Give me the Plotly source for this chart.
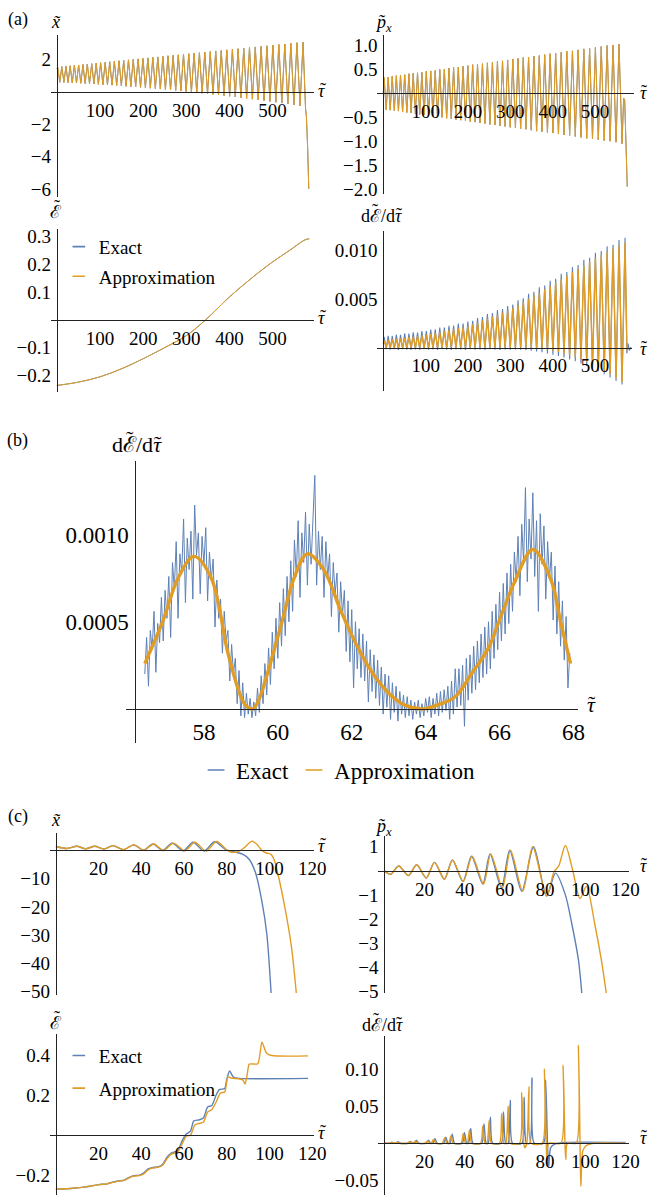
import plotly.graph_objects as go

W, H = 661, 1204
BLUE = '#5E81B5'
ORANGE = '#E19C24'
SERIF = 'Liberation Serif, Times New Roman, serif'
AXC = '#222222'

# ======================= (a) long run, tau 0..585 =======================
a_tau_peak = [2.0, 11.5, 21.1, 30.8, 40.6, 50.5, 60.5, 70.6, 80.8, 91.1, 101.5, 112.0, 122.6,
              133.3, 144.1, 155.0, 166.0, 177.1, 188.3, 199.6, 211.0, 222.5, 234.1, 245.8,
              257.6, 269.5, 281.5, 293.6, 305.8, 318.1, 330.5, 343.0, 355.6, 368.3, 381.1,
              394.0, 407.0, 420.1, 433.3, 446.6, 460.0, 473.5, 487.1, 500.8, 514.6, 528.5,
              542.5, 556.6, 570.8]
a_tau_trough = [6.75, 16.3, 25.95, 35.7, 45.55, 55.5, 65.55, 75.7, 85.95, 96.3, 106.75, 117.3,
                127.95, 138.7, 149.55, 160.5, 171.55, 182.7, 193.95, 205.3, 216.75, 228.3,
                239.95, 251.7, 263.55, 275.5, 287.55, 299.7, 311.95, 324.3, 336.75, 349.3,
                361.95, 374.7, 387.55, 400.5, 413.55, 426.7, 439.95, 453.3, 466.75, 480.3,
                493.95, 507.7, 521.55, 535.5, 549.55, 563.7]

# x~ : maxima and minima of each oscillation
a_x_peak = [1.55, 1.58, 1.60, 1.63, 1.66, 1.68, 1.71, 1.74, 1.76, 1.79, 1.82, 1.85, 1.88, 1.91,
            1.94, 1.97, 2.00, 2.03, 2.06, 2.09, 2.12, 2.15, 2.18, 2.21, 2.25, 2.28, 2.31, 2.34,
            2.38, 2.41, 2.44, 2.48, 2.51, 2.55, 2.58, 2.62, 2.65, 2.69, 2.72, 2.76, 2.80, 2.83,
            2.87, 2.91, 2.95, 2.98, 3.02, 3.06, 3.10]
a_x_trough = [0.61, 0.60, 0.59, 0.57, 0.56, 0.55, 0.53, 0.52, 0.50, 0.48, 0.46, 0.45, 0.43, 0.41,
              0.38, 0.36, 0.34, 0.32, 0.29, 0.27, 0.24, 0.22, 0.19, 0.16, 0.13, 0.10, 0.07, 0.04,
              0.00, -0.03, -0.07, -0.10, -0.14, -0.18, -0.22, -0.26, -0.30, -0.35, -0.39, -0.44,
              -0.48, -0.53, -0.58, -0.63, -0.68, -0.74, -0.79, -0.85]
a_x_start = [0.0, 1.45]
a_x_tail_tau = [576.5, 578.5, 581.5, 584.0]
a_x_tail = [-1.0, -1.5, -3.5, -6.0]

# p~_x
a_px_peak = [0.33, 0.34, 0.36, 0.37, 0.38, 0.39, 0.41, 0.42, 0.43, 0.44, 0.46, 0.47, 0.48, 0.50,
             0.51, 0.53, 0.54, 0.55, 0.57, 0.58, 0.60, 0.61, 0.62, 0.64, 0.65, 0.67, 0.68, 0.70,
             0.72, 0.73, 0.75, 0.76, 0.78, 0.79, 0.81, 0.83, 0.84, 0.86, 0.88, 0.89, 0.91, 0.93,
             0.94, 0.96, 0.98, 1.00, 1.01, 1.03]
a_px_trough = [-0.34, -0.35, -0.36, -0.37, -0.39, -0.40, -0.41, -0.43, -0.44, -0.45, -0.46, -0.48,
               -0.49, -0.50, -0.52, -0.53, -0.55, -0.56, -0.57, -0.59, -0.60, -0.62, -0.63, -0.65,
               -0.66, -0.68, -0.69, -0.71, -0.72, -0.74, -0.75, -0.77, -0.79, -0.80, -0.82, -0.83,
               -0.85, -0.87, -0.88, -0.90, -0.92, -0.94, -0.95, -0.97, -0.99, -1.00, -1.02, -1.05]
a_px_start = [0.0, 0.0]
a_px_tail_tau = [567.5, 570.0, 576.0]
a_px_tail = [-0.10, -0.15, -1.95]

# E~
a_E_tau = [0, 50, 100, 150, 200, 250, 300, 345, 400, 450, 500, 540, 570, 575, 580, 585]
a_E = [-0.236, -0.224, -0.205, -0.176, -0.140, -0.100, -0.057, 0.000, 0.082, 0.148, 0.208,
       0.250, 0.283, 0.287, 0.290, 0.291]

# dE~/dtau (units of 1e-4)
a_dE_peak_approx = [7.1, 7.7, 8.3, 8.8, 9.4, 10.0, 10.6, 11.2, 11.8, 12.4, 13.1, 14.1, 15.0, 16.0,
                    17.0, 17.9, 18.9, 19.9, 20.9, 22.0, 23.9, 25.8, 27.8, 29.8, 31.8, 33.8, 35.9,
                    37.9, 40.5, 43.7, 46.9, 50.2, 53.5, 56.8, 60.1, 63.4, 66.9, 70.4, 74.0, 77.6,
                    81.2, 84.8, 88.5, 92.2, 95.4, 98.6, 101.8, 105.1, 108.3]
a_dE_peak_exact = [11.1, 12.0, 12.1, 13.3, 13.1, 14.6, 14.3, 15.6, 15.5, 17.0, 16.9, 18.6, 18.7,
                   20.5, 20.6, 22.4, 22.7, 24.6, 24.6, 26.7, 27.6, 30.5, 31.5, 34.6, 35.5, 38.7,
                   39.6, 42.9, 44.3, 48.8, 50.8, 55.4, 57.4, 62.1, 64.0, 68.9, 70.8, 75.9, 77.8,
                   83.1, 85.1, 90.4, 92.4, 97.8, 99.4, 104.3, 105.9, 110.9, 113.2]
a_dE_trough_approx = [0.0] * 30 + [0.0, -0.2, -0.7, -1.3, -2.2, -3.2, -4.5, -6.1, -7.9, -9.9,
                                   -12.2, -14.7, -17.5, -20.5, -23.8, -27.4, -31.3, -35.5]
a_dE_trough_exact = [-1.6, -2.2, -1.8, -2.4, -1.7, -2.1, -2.5, -1.9, -2.2, -1.6, -2.3, -2.0, -2.6,
                     -1.8, -2.2, -2.4, -1.9, -2.1, -2.5, -1.7, -2.3, -2.0, -2.4, -1.8, -2.2, -2.6,
                     -1.9, -2.3, -2.1, -2.3, -2.7, -3.3, -4.0, -4.9, -6.0, -7.3, -8.7, -10.3,
                     -12.2, -14.2, -16.5, -18.9, -21.6, -24.4, -27.5, -30.8, -34.4, -38.2]
a_dE_start = [0.0, 4.0]
a_dE_tail_tau_approx = [575.5, 578.0]
a_dE_tail_approx = [-3.0, 0.0]
a_dE_tail_tau_exact = [575.0, 578.0, 581.0, 585.0]
a_dE_tail_exact = [-6.0, 4.0, -3.0, 0.5]

# ======================= (b) zoom 56.4..67.9 (units of 1e-4) =======================
b_tau_start, b_tau_step = 56.40, 0.05
b_exact = [2.0, 4.1, 1.3, 4.5, 3.4, 5.6, 2.1, 4.9, 3.8, 6.4,
           3.9, 6.8, 5.2, 7.6, 4.1, 8.4, 6.9, 9.6, 5.2, 8.9,
           7.8, 10.9, 6.1, 9.8, 8.0, 10.2, 6.3, 11.7, 8.8, 10.1,
           6.6, 9.9, 8.3, 10.4, 6.2, 9.0, 7.4, 8.6, 4.7, 7.4,
           5.2, 6.3, 3.2, 5.6, 3.9, 4.5, 1.6, 3.7, 2.0, 2.9,
           0.3, 2.2, -0.4, 1.5, -0.5, 0.9, -0.3, 0.6, -0.5, 0.4,
           -0.4, 1.2, -0.2, 1.9, 0.3, 2.6, 0.8, 3.5, 1.4, 4.4,
           2.3, 5.2, 2.9, 6.1, 3.6, 6.9, 4.2, 7.6, 5.0, 8.5,
           5.6, 9.7, 7.6, 10.8, 6.4, 10.1, 8.4, 11.3, 7.1, 10.6,
           8.3, 11.0, 13.4, 7.1, 10.2, 8.0, 9.9, 6.4, 9.6, 7.5,
           8.9, 5.3, 8.4, 6.6, 7.8, 4.4, 7.3, 5.4, 6.8, 3.3,
           6.2, 2.7, 5.7, 1.2, 5.0, 2.3, 4.6, 1.8, 4.3, 1.6,
           3.9, 0.4, 3.4, 1.0, 3.1, 0.6, 2.8, 0.2, 2.4, -0.3,
           2.0, 0.1, 1.9, -0.6, 1.5, -0.2, 1.3, -0.7, 1.0, -0.3,
           0.8, -0.5, 0.7, -0.4, 0.5, -0.6, 0.4, -0.3, 0.5, -0.5,
           0.3, -0.4, 0.6, -0.2, 0.7, -0.5, 0.6, -0.3, 0.9, -0.4,
           1.0, -0.2, 1.1, -0.1, 1.3, -0.6, 1.6, -0.3, 2.3, 0.1,
           2.3, 0.2, 2.5, -1.0, 2.9, 0.5, 3.1, 0.9, 3.6, 1.1,
           3.9, 1.5, 4.3, 1.8, 4.7, 2.0, 5.0, 2.3, 5.6, 2.9,
           6.0, 3.4, 6.7, 3.9, 7.2, 4.3, 7.8, 4.9, 8.3, 5.6,
           9.0, 7.3, 9.9, 6.5, 10.6, 8.4, 12.7, 7.3, 10.9, 8.6,
           12.4, 7.6, 10.8, 5.6, 11.2, 8.3, 10.5, 6.3, 9.6, 7.4,
           9.0, 5.1, 8.2, 4.3, 7.3, 3.6, 6.2, 2.8, 5.3, 1.2,
           3.2]
b_approx_tau = [56.40, 56.90, 57.30, 57.73, 58.20, 58.65, 59.00, 59.15, 59.33, 59.50, 59.70,
                60.10, 60.44, 60.80, 61.24, 61.70, 62.10, 62.55, 63.00, 63.45, 63.90, 64.35,
                64.80, 65.25, 65.70, 66.05, 66.40, 66.90, 67.40, 67.65, 67.92]
b_approx = [2.6, 5.1, 7.5, 8.75, 7.5, 3.2, 0.7, 0.15, 0.0, 0.6, 1.9, 4.9, 7.5, 8.9, 8.0, 5.65,
            3.8, 2.1, 0.9, 0.2, 0.0, 0.25, 0.7, 2.05, 3.5, 5.4, 7.25, 9.15, 7.35, 5.0, 2.6]

# ======================= (c) short run, tau 0..120 =======================
c_x_tau_exact = [0, 5.2, 9.8, 13.9, 18.2, 22.5, 26.7, 31.7, 36.4, 41.0, 45.5, 50.0, 54.4, 59.6,
                 64.2, 69.3, 74.3, 79.5, 83.0, 87.3, 90.3, 93.3, 96.4, 98.7, 100.7]
c_x_exact = [1.4, 0.7, 1.5, 0.6, 1.5, 0.5, 1.7, 0.3, 2.0, 0.1, 2.3, 0.0, 2.6, -0.1, 2.9, -0.2,
             3.1, 0.3, -0.4, -1.3, -3.0, -7.6, -18.0, -29.6, -50.5]
c_x_tau_approx = [0, 5.2, 9.8, 13.9, 18.2, 22.5, 26.7, 31.7, 36.6, 41.2, 45.8, 50.4, 55.0, 60.4,
                  65.0, 70.3, 75.2, 81.1, 85.0, 88.2, 91.8, 94.5, 96.4, 98.5, 100.5, 102.0,
                  104.0, 107.1, 110.2, 112.5]
c_x_approx = [1.4, 0.7, 1.5, 0.6, 1.5, 0.5, 1.7, 0.3, 2.0, 0.1, 2.3, 0.0, 2.6, -0.1, 2.9, -0.2,
              3.2, -0.4, -0.5, 1.0, 3.3, 1.8, 0.0, -0.9, -1.3, -3.0, -8.7, -20.0, -34.0, -50.5]

c_px_tau_exact = [0, 3.1, 7.2, 12.0, 16.1, 20.9, 25.0, 29.9, 33.9, 39.1, 43.4, 49.0, 52.6, 58.3,
                  62.4, 68.4, 74.3, 80.8, 85.2, 90.1, 93.3, 96.6, 98.3]
c_px_exact = [0.0, -0.15, 0.2, -0.2, 0.25, -0.3, 0.35, -0.35, 0.45, -0.45, 0.6, -0.55, 0.7,
              -0.7, 0.85, -0.85, 1.0, -1.05, -0.1, -1.0, -2.2, -3.7, -5.1]
c_px_tau_approx = [0, 3.1, 7.2, 12.0, 16.1, 20.9, 25.0, 29.9, 34.0, 39.3, 43.7, 49.4, 53.0, 58.8,
                   62.8, 68.9, 73.8, 80.8, 84.4, 86.8, 90.1, 93.8, 97.4, 100.6, 104.7, 108.0,
                   110.5]
c_px_approx = [0.0, -0.15, 0.2, -0.2, 0.25, -0.3, 0.35, -0.35, 0.45, -0.45, 0.6, -0.55, 0.7,
               -0.7, 0.85, -0.85, 1.0, -1.05, -0.05, 0.2, 1.05, 0.0, -1.15, -0.65, -2.2, -3.7,
               -5.1]

c_E_tau_exact = [0, 8, 14, 20, 24, 26, 29, 32, 34, 36, 39, 41, 43, 45, 48, 50, 52, 54, 57, 59, 61,
                 63, 64.5, 67, 69, 71, 73, 75, 76.5, 79, 80, 81.3, 83, 86, 118]
c_E_exact = [-0.270, -0.265, -0.258, -0.247, -0.243, -0.236, -0.229, -0.225, -0.212, -0.203,
             -0.200, -0.190, -0.170, -0.162, -0.158, -0.145, -0.110, -0.090, -0.078, -0.030,
             0.005, 0.020, 0.070, 0.076, 0.085, 0.140, 0.148, 0.200, 0.227, 0.232, 0.280, 0.320,
             0.290, 0.283, 0.283]
c_E_tau_approx = [0, 8, 14, 20, 24, 26, 29, 32, 34, 36, 39, 41, 43, 45, 48, 50, 52, 54, 57, 59, 61,
                  63, 65, 67, 69, 71, 73, 75, 77, 79, 80.5, 82, 86, 87.5, 88.5, 89.5, 90.5, 94.5,
                  96.4, 98.5, 101, 118]
c_E_approx = [-0.270, -0.265, -0.258, -0.247, -0.243, -0.238, -0.230, -0.226, -0.215, -0.205,
              -0.202, -0.195, -0.175, -0.165, -0.160, -0.150, -0.118, -0.095, -0.085, -0.045,
              -0.005, 0.000, 0.050, 0.058, 0.064, 0.115, 0.128, 0.165, 0.210, 0.215, 0.290,
              0.285, 0.280, 0.275, 0.255, 0.300, 0.354, 0.356, 0.464, 0.410, 0.397, 0.395]

c_dE_tau_exact = [0, 2.7, 3.8, 4.9, 5.8, 6.9, 8.0, 11.8, 12.9, 14.0, 14.9, 16.0, 17.1, 20.9, 22.0,
                  23.1, 24.1, 25.2, 26.3, 29.5, 30.6, 31.7, 32.7, 33.8, 34.9, 38.8, 39.9, 41.0,
                  41.9, 43.0, 44.1, 48.5, 49.6, 50.7, 51.7, 52.8, 53.9, 58.2, 59.3, 60.4, 61.6,
                  62.7, 63.8, 68.5, 69.6, 70.7, 72.4, 73.5, 74.6, 79.2, 80.3, 81.2, 81.8, 82.8,
                  85.0, 90.0, 120.0]
c_dE_exact = [0, 0, 0.0015, 0, 0, 0.002, 0, 0, 0.0025, 0, 0, 0.004, 0, 0, 0.004, 0, 0, 0.006, 0,
              0, 0.008, 0, 0, 0.012, 0, 0, 0.014, 0, 0, 0.020, 0, 0, 0.026, 0, 0, 0.035, 0, 0,
              0.042, 0, 0, 0.058, 0, 0, 0.062, 0, 0, 0.088, 0, 0, 0.085, 0, -0.032, -0.006,
              -0.001, 0.001, 0.001]
c_dE_tau_approx = [0, 2.4, 3.5, 4.6, 5.4, 6.5, 7.6, 11.4, 12.5, 13.6, 14.4, 15.5, 16.6, 20.4, 21.5,
                   22.6, 23.4, 24.5, 25.6, 28.9, 30.0, 31.1, 32.1, 33.2, 34.3, 38.2, 39.3, 40.4,
                   41.3, 42.4, 43.5, 47.9, 49.0, 50.1, 51.1, 52.2, 53.3, 57.3, 58.4, 59.5, 60.5,
                   61.6, 62.7, 67.3, 68.4, 69.4, 69.9, 70.9, 72.0, 73.1, 78.6, 79.7, 80.6, 81.0,
                   81.8, 87.9, 89.0, 89.9, 90.3, 91.1, 95.5, 96.6, 97.4, 97.8, 98.8, 100.5, 104.0,
                   120.0]
c_dE_approx = [0, 0, 0.001, 0, 0, 0.0015, 0, 0, 0.002, 0, 0, 0.003, 0, 0, 0.003, 0, 0, 0.005, 0,
               0, 0.007, 0, 0, 0.010, 0, 0, 0.013, 0, 0, 0.018, 0, 0, 0.023, 0, 0, 0.031, 0, 0,
               0.040, 0, 0, 0.050, 0, 0, 0.068, 0, -0.006, 0, 0.076, 0, 0, 0.100, 0, -0.030, 0,
               0, 0.105, 0, -0.022, 0, 0, 0.132, 0, -0.058, -0.010, -0.003, 0, 0]


def zigzag(start, tp, vp, tt, vt, tail_t, tail_v):
    ts, vs = [start[0]], [start[1]]
    for i in range(len(tp)):
        ts.append(tp[i]); vs.append(vp[i])
        if i < len(tt):
            ts.append(tt[i]); vs.append(vt[i])
    return ts + list(tail_t), vs + list(tail_v)


def e4(lst):
    return [v * 1e-4 for v in lst]


fig = go.Figure()

# panel geometry (pixels) and axis scaling
panels = {
    1: dict(xdom=(52, 320), xref=(58, 0), xs=0.44, ydom=(32, 196), y0=90, ys=16.3, yax=58),
    2: dict(xdom=(385, 647), xref=(391, 0), xs=0.432, ydom=(32, 193), y0=91.3, ys=48.3, yax=391),
    3: dict(xdom=(52, 320), xref=(58, 0), xs=0.44, ydom=(228, 393), y0=320, ys=281, yax=58),
    4: dict(xdom=(385, 645), xref=(391, 0), xs=0.432, ydom=(230, 392), y0=348, ys=9800, yax=391),
    5: dict(xdom=(129, 590), xref=(208, 58), xs=37.7, ydom=(463, 747), y0=713, ys=176000, yax=138),
    6: dict(xdom=(51, 320), xref=(57, 0), xs=2.18, ydom=(838, 1002), y0=856, ys=2.85, yax=57),
    7: dict(xdom=(386, 642), xref=(392, 0), xs=2.05, ydom=(841, 1000), y0=876.5, ys=24.33, yax=392),
    8: dict(xdom=(51, 320), xref=(57, 0), xs=2.18, ydom=(1041, 1204), y0=1143.5, ys=202.5, yax=57),
    9: dict(xdom=(386, 642), xref=(392, 0), xs=2.05, ydom=(1043, 1204), y0=1151.7, ys=750, yax=392),
}

ticks = {
    1: ([100, 200, 300, 400, 500], ['100', '200', '300', '400', '500'],
        [2, -2, -4, -6], ['2', '−2', '−4', '−6'], 19, 1),
    2: ([100, 200, 300, 400, 500], ['100', '200', '300', '400', '500'],
        [1.0, 0.5, -0.5, -1.0, -1.5, -2.0], ['1.0', '0.5', '−0.5', '−1.0', '−1.5', '−2.0'], 19, 1),
    3: ([100, 200, 300, 400, 500], ['100', '200', '300', '400', '500'],
        [0.3, 0.2, 0.1, -0.1, -0.2], ['0.3', '0.2', '0.1', '−0.1', '−0.2'], 19, 1),
    4: ([100, 200, 300, 400, 500], ['100', '200', '300', '400', '500'],
        [0.005, 0.010], ['0.005', '0.010'], 19, 1),
    5: ([58, 60, 62, 64, 66, 68], ['58', '60', '62', '64', '66', '68'],
        [0.0005, 0.0010], ['0.0005', '0.0010'], 23, 3),
    6: ([20, 40, 60, 80, 100, 120], ['20', '40', '60', '80', '100', '120'],
        [-10, -20, -30, -40, -50], ['−10', '−20', '−30', '−40', '−50'], 19, 1),
    7: ([20, 40, 60, 80, 100, 120], ['20', '40', '60', '80', '100', '120'],
        [1, -1, -2, -3, -4, -5], ['1', '−1', '−2', '−3', '−4', '−5'], 19, 1),
    8: ([20, 40, 60, 80, 100, 120], ['20', '40', '60', '80', '100', '120'],
        [0.4, 0.2, -0.2], ['0.4', '0.2', '−0.2'], 19, 1),
    9: ([20, 40, 60, 80, 100, 120], ['20', '40', '60', '80', '100', '120'],
        [0.10, 0.05, -0.05], ['0.10', '0.05', '−0.05'], 19, 1),
}

layout_axes = {}
for k, p in panels.items():
    xr = [p['xref'][1] + (p['xdom'][0] - p['xref'][0]) / p['xs'],
          p['xref'][1] + (p['xdom'][1] - p['xref'][0]) / p['xs']]
    yr = [(p['y0'] - p['ydom'][1]) / p['ys'], (p['y0'] - p['ydom'][0]) / p['ys']]
    xv, xt, yv, yt, fs, so = ticks[k]
    sfx = '' if k == 1 else str(k)
    layout_axes['xaxis' + sfx] = dict(
        domain=[p['xdom'][0] / W, p['xdom'][1] / W], range=xr, anchor='free',
        position=1 - p['y0'] / H, showline=True, linecolor=AXC, linewidth=1,
        showgrid=False, zeroline=False, ticks='', tickvals=xv, ticktext=xt,
        tickfont=dict(family=SERIF, size=fs, color='black'), ticklabelstandoff=so,
        fixedrange=True)
    layout_axes['yaxis' + sfx] = dict(
        domain=[1 - p['ydom'][1] / H, 1 - p['ydom'][0] / H], range=yr, anchor='free',
        position=p['yax'] / W, showline=True, linecolor=AXC, linewidth=1,
        showgrid=False, zeroline=False, ticks='', tickvals=yv, ticktext=yt,
        tickfont=dict(family=SERIF, size=fs, color='black'), ticklabelstandoff=2,
        fixedrange=True)


def line(k, x, y, color, width, shape='linear', smoothing=1.0):
    sfx = '' if k == 1 else str(k)
    fig.add_trace(go.Scatter(x=x, y=y, mode='lines', xaxis='x' + sfx, yaxis='y' + sfx,
                             line=dict(color=color, width=width, shape=shape,
                                       smoothing=smoothing),
                             showlegend=False, hoverinfo='skip'))


# ---- (a) ----
tx, vx = zigzag(a_x_start, a_tau_peak, a_x_peak, a_tau_trough, a_x_trough, a_x_tail_tau, a_x_tail)
line(1, tx, vx, BLUE, 1.0)
line(1, tx, vx, ORANGE, 1.0)

tp, vp = zigzag(a_px_start, a_tau_peak[:48], a_px_peak, a_tau_trough, a_px_trough,
                a_px_tail_tau, a_px_tail)
line(2, tp, vp, BLUE, 1.0)
line(2, tp, vp, ORANGE, 1.0)

line(3, a_E_tau, a_E, BLUE, 1.0, 'spline')
line(3, a_E_tau, a_E, ORANGE, 1.0, 'spline')

te, ve = zigzag(a_dE_start, a_tau_peak, a_dE_peak_exact, a_tau_trough, a_dE_trough_exact,
                a_dE_tail_tau_exact, a_dE_tail_exact)
line(4, te, e4(ve), BLUE, 1.1)
ta, va = zigzag(a_dE_start, a_tau_peak, a_dE_peak_approx, a_tau_trough, a_dE_trough_approx,
                a_dE_tail_tau_approx, a_dE_tail_approx)
line(4, ta, e4(va), ORANGE, 1.4)

# ---- (b) ----
b_tau = [round(b_tau_start + b_tau_step * i, 2) for i in range(len(b_exact))]
line(5, b_tau, e4(b_exact), BLUE, 1.0)
line(5, b_approx_tau, e4(b_approx), ORANGE, 3.4, 'spline', 1.0)

# ---- (c) ----
line(6, c_x_tau_exact, c_x_exact, BLUE, 1.4, 'spline', 0.8)
line(6, c_x_tau_approx, c_x_approx, ORANGE, 1.4, 'spline', 0.8)
line(7, c_px_tau_exact, c_px_exact, BLUE, 1.4, 'spline', 0.8)
line(7, c_px_tau_approx, c_px_approx, ORANGE, 1.4, 'spline', 0.8)
line(8, c_E_tau_exact, c_E_exact, BLUE, 1.4, 'spline', 0.6)
line(8, c_E_tau_approx, c_E_approx, ORANGE, 1.4, 'spline', 0.6)
line(9, c_dE_tau_exact, c_dE_exact, BLUE, 1.4, 'spline', 0.7)
line(9, c_dE_tau_approx, c_dE_approx, ORANGE, 1.4, 'spline', 0.7)

# ---- legends ----
for lg, size in (('legend', 9), ('legend2', 12), ('legend3', 9)):
    for name, col in (('Exact', BLUE), ('Approximation', ORANGE)):
        fig.add_trace(go.Scatter(x=[None], y=[None], mode='markers', name=name,
                                 legend=lg, legendgroup=lg + name,
                                 marker=dict(symbol='line-ew', size=size,
                                             line=dict(color=col, width=1.6)),
                                 hoverinfo='skip'))

annotations = []


def ann(px, py, text, size=18):
    annotations.append(dict(x=px / W, y=1 - py / H, xref='paper', yref='paper', text=text,
                            showarrow=False, xanchor='center', yanchor='middle',
                            font=dict(family=SERIF, size=size, color='black')))


def tilde(px, py, size=18):
    # small tilde accent drawn above the preceding glyph
    ann(px, py, '˜', size)


def tau_label(px, py, size=18):
    ann(px, py, '<i>τ</i>', size)
    tilde(px + 1, py - 1, size)


def dE_label(px, py, size=18):
    s = size / 18.0
    ann(px, py, 'dℰ/d<i>τ</i>', size)
    tilde(px - 6 * s, py - 5 * s, size)
    tilde(px + 17.5 * s, py - 1 * s, size)


def E_label(px, py, size=18):
    ann(px, py, 'ℰ', size)
    tilde(px + 1, py - 5, size)


ann(18, 17, '(a)')
ann(57, 19, '<i>x\u0303</i>')
tau_label(328, 89)
ann(391, 21, '<i>p\u0303</i><sub><i>x</i></sub>')
tau_label(656, 91)
E_label(57, 211)
tau_label(328, 318)
dE_label(389, 215)
tau_label(656, 349)
ann(18, 442, '(b)')
dE_label(140, 446, 22)
tau_label(603, 709, 22)
ann(18, 822, '(c)')
ann(57, 825, '<i>x\u0303</i>')
tau_label(328, 851)
ann(391, 833, '<i>p\u0303</i><sub><i>x</i></sub>')
tau_label(656, 872)
E_label(57, 1030)
tau_label(328, 1141)
dE_label(390, 1032)
tau_label(656, 1146)

fig.update_layout(
    width=W, height=H, autosize=False, margin=dict(l=0, r=0, t=0, b=0),
    paper_bgcolor='white', plot_bgcolor='rgba(0,0,0,0)',
    annotations=annotations,
    legend=dict(x=60 / W, y=1 - 227 / H, xanchor='left', yanchor='top',
                bgcolor='rgba(0,0,0,0)', font=dict(family=SERIF, size=19, color='black'),
                tracegroupgap=2),
    legend2=dict(x=200 / W, y=1 - 753 / H, xanchor='left', yanchor='top', orientation='h',
                 bgcolor='rgba(0,0,0,0)', font=dict(family=SERIF, size=23, color='black')),
    legend3=dict(x=60 / W, y=1 - 1044 / H, xanchor='left', yanchor='top',
                 bgcolor='rgba(0,0,0,0)', font=dict(family=SERIF, size=19, color='black'),
                 tracegroupgap=5),
    **layout_axes,
)

fig.write_html('out.html')
